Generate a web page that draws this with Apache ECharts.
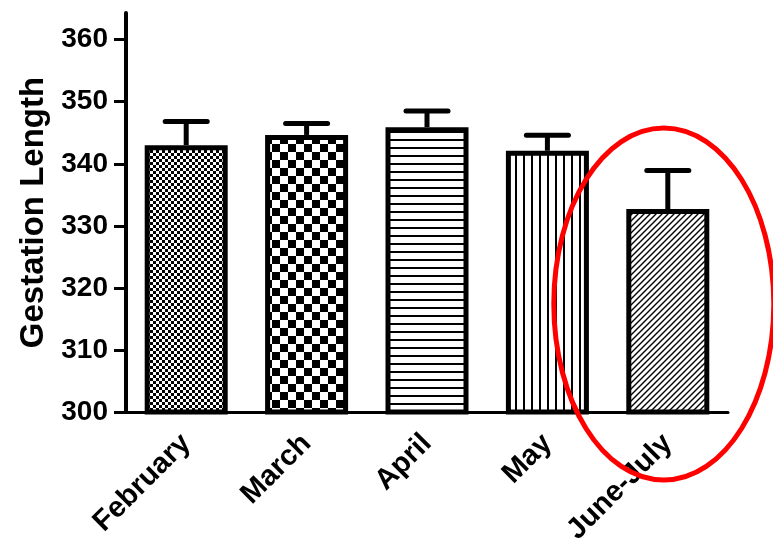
<!DOCTYPE html>
<html>
<head>
<meta charset="utf-8">
<script src="https://cdn.jsdelivr.net/npm/echarts@6.0.0/dist/echarts.min.js"></script>
<style>
  * { margin: 0; padding: 0; }
  body { background: #fff; }
</style>
</head>
<body>
<!-- chart container -->
<div id="main" style="width:773px;height:553px;background:white;"></div>
<script>
var months = ["February", "March", "April", "May", "June-July"];
var gestationMean = [343.0, 344.65, 345.9, 342.1, 332.7];
var gestationErr = [3.8, 1.85, 2.6, 2.5, 6.2];
var yTicks = [300, 310, 320, 330, 340, 350, 360];

var FONT = "'Liberation Sans', Arial, sans-serif";

// fill patterns (canvas tiles)
function tile(w, h, draw) {
  var c = document.createElement("canvas");
  c.width = w;
  c.height = h;
  var ctx = c.getContext("2d");
  ctx.fillStyle = "#fff";
  ctx.fillRect(0, 0, w, h);
  ctx.fillStyle = "#000";
  ctx.strokeStyle = "#000";
  draw(ctx);
  return { image: c, repeat: "repeat" };
}
function checker(s) {
  return tile(s * 2, s * 2, function (ctx) {
    ctx.fillRect(0, 0, s, s);
    ctx.fillRect(s, s, s, s);
  });
}
var patterns = [
  checker(3),
  checker(8),
  tile(8, 8, function (ctx) { ctx.fillRect(0, 3, 8, 2); }), // horizontal lines
  tile(8, 8, function (ctx) { ctx.fillRect(3, 0, 2, 8); }), // vertical lines
  tile(6, 6, function (ctx) { // diagonal hatch
    ctx.lineWidth = 1.4;
    ctx.beginPath();
    ctx.moveTo(-1, 7); ctx.lineTo(7, -1);
    ctx.moveTo(-4, 4); ctx.lineTo(4, -4);
    ctx.moveTo(2, 10); ctx.lineTo(10, 2);
    ctx.stroke();
  })
];

var barData = gestationMean.map(function (v, i) {
  return { value: v, itemStyle: { color: patterns[i] } };
});
var errData = gestationMean.map(function (v, i) {
  return [months[i], v, v + gestationErr[i]];
});

var chart = echarts.init(document.getElementById("main"));
chart.setOption({
  animation: false,
  grid: { left: 126, right: 45, top: 13, bottom: 141 },
  xAxis: {
    type: "category",
    data: months,
    axisLine: { lineStyle: { color: "#000", width: 3 } },
    axisTick: { alignWithLabel: true, length: 11, lineStyle: { color: "#000", width: 3 } },
    axisLabel: {
      rotate: 45,
      margin: 27,
      color: "#000",
      fontFamily: FONT,
      fontWeight: "bold",
      fontSize: 29
    }
  },
  yAxis: {
    type: "value",
    min: 300,
    max: 364.3,
    interval: 10,
    name: "Gestation Length",
    nameLocation: "middle",
    nameGap: 76,
    nameTextStyle: { color: "#000", fontFamily: FONT, fontWeight: "bold", fontSize: 33 },
    splitLine: { show: false },
    axisLine: { show: true, lineStyle: { color: "#000", width: 4 } },
    axisTick: { show: true, length: 12, customValues: yTicks, lineStyle: { color: "#000", width: 3 } },
    axisLabel: {
      customValues: yTicks,
      margin: 18,
      color: "#000",
      fontFamily: FONT,
      fontWeight: "bold",
      fontSize: 28
    }
  },
  series: [
    {
      type: "bar",
      barWidth: 83,
      data: barData,
      itemStyle: { borderColor: "#000", borderWidth: 5 }
    },
    {
      type: "custom",
      z: 3,
      data: errData,
      renderItem: function (params, api) {
        var base = api.coord([api.value(0), api.value(1)]);
        var top = api.coord([api.value(0), api.value(2)]);
        var half = 21;
        return {
          type: "group",
          children: [
            { type: "line", shape: { x1: base[0], y1: base[1], x2: top[0], y2: top[1] },
              style: { stroke: "#000", lineWidth: 5 } },
            { type: "line", shape: { x1: top[0] - half, y1: top[1], x2: top[0] + half, y2: top[1] },
              style: { stroke: "#000", lineWidth: 5, lineCap: "round" } }
          ]
        };
      }
    }
  ]
});

// red ellipse highlighting the last group
var c0 = chart.convertToPixel({ xAxisIndex: 0, yAxisIndex: 0 }, ["June-July", 335]);
chart.setOption({
  graphic: [{
    type: "ellipse",
    z: 100,
    shape: { cx: c0[0] - 4, cy: 304, rx: 110, ry: 176 },
    style: { fill: "none", stroke: "#f00", lineWidth: 5 }
  }]
});
</script>
</body>
</html>
